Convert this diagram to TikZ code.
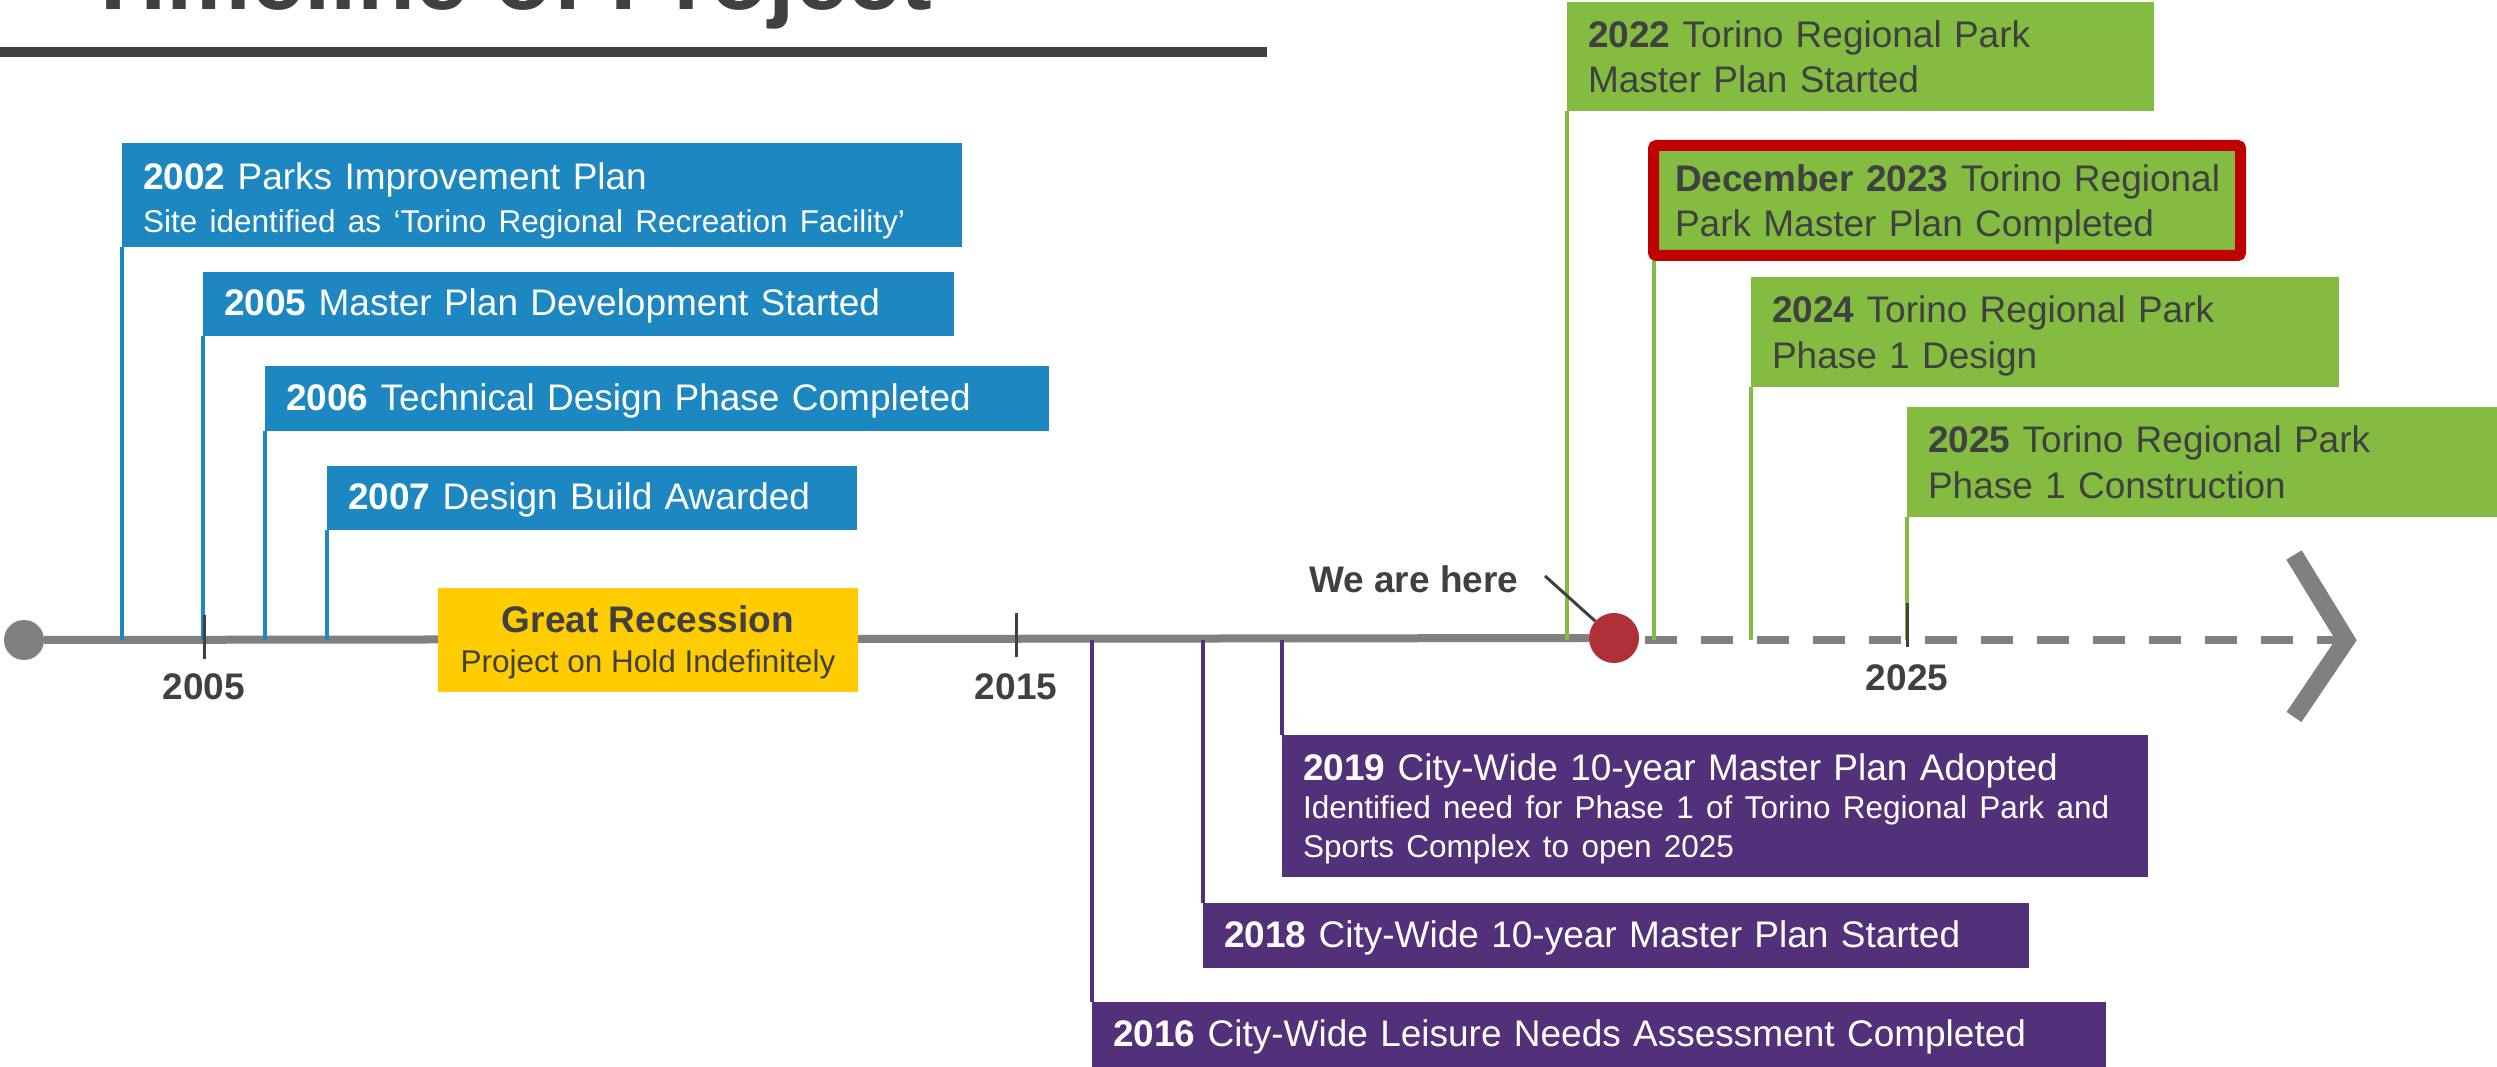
\documentclass[tikz,border=0pt]{standalone}
\usepackage{fontspec}
\setmainfont{Liberation Sans}
\usepackage{tikz}
\usetikzlibrary{positioning, shapes.geometric}

\definecolor{evBlue}{RGB}{29,135,193}
\definecolor{evGreen}{RGB}{132,188,65}
\definecolor{evPurple}{RGB}{82,49,122}
\definecolor{evYellow}{RGB}{255,204,0}
\definecolor{evGray}{RGB}{128,128,128}
\definecolor{evDark}{RGB}{64,64,64}
\definecolor{evRed}{RGB}{192,0,0}
\definecolor{evDot}{RGB}{176,48,58}
\newcommand{\evSub}{\fontsize{31.5}{38}\selectfont}

\begin{document}
\begin{tikzpicture}[x=1pt, y=-1pt, font=\fontsize{37}{43}\selectfont,
	evbox/.style={anchor=north west, inner xsep=21pt, inner ysep=0pt, outer sep=0pt, align=left, text height=27pt, text depth=4pt},
	twoline/.style={text depth=45.5pt},
	bluebox/.style={evbox, fill=evBlue, text=white},
	greenbox/.style={evbox, twoline, fill=evGreen, text=evDark, minimum height=109.5pt, font=\fontsize{37}{45.5}\selectfont},
	purplebox/.style={evbox, fill=evPurple, text=white},
	bluelink/.style={evBlue, line width=4pt},
	greenlink/.style={evGreen, line width=4pt},
	purplelink/.style={evPurple, line width=3.5pt},
	yearlbl/.style={anchor=base, inner sep=0pt, font=\fontsize{37}{43}\selectfont\bfseries, text=evDark}]
	\useasboundingbox (0,0) rectangle (2497,1067);
	
	% title
	\node[anchor=base west, inner sep=0pt, font=\fontsize{95}{100}\selectfont\bfseries, text=evDark] (title) at (84,10) {Timeline of Project};
	\fill[evDark] (0,47) rectangle (1267,57);
	
	% axis
	\coordinate (axisL) at (24,640);
	\coordinate (dashL) at (1645,640);
	\coordinate (tip) at (2346,640);
	\node[circle, fill=evGray, minimum size=40pt, inner sep=0pt] (start) at (axisL) {};
	\node[circle, fill=evDot, minimum size=50pt, inner sep=0pt] (now) at (1614,638) {};
	\draw[evGray, line width=8pt] (start) -- (now);
	\draw[evGray, line width=8pt, dash pattern=on 32pt off 24pt] (dashL) -- (tip);
	\draw[evGray, line width=18pt, miter limit=10] (2294,555) -- (tip) -- (2294,717);
	
	% events before the hold
	\node[bluebox, text width=798pt, minimum height=104pt, text depth=37pt] (e2002) at (122,143) {\textbf{2002} Parks Improvement Plan\\{\evSub Site identified as ‘Torino Regional Recreation Facility’}};
	\node[bluebox, text width=709pt, minimum height=64pt] (e2005) at (203,272) {\textbf{2005} Master Plan Development Started};
	\node[bluebox, text width=742pt, minimum height=65pt] (e2006) at (265,366) {\textbf{2006} Technical Design Phase Completed};
	\node[bluebox, text width=488pt, minimum height=64pt] (e2007) at (327,466) {\textbf{2007} Design Build Awarded};
	\foreach \ev in {e2002, e2005, e2006, e2007} {
		\draw[bluelink] (\ev.south west) -- (\ev.south west |- axisL);
	}
	
	\node[fill=evYellow, minimum width=420pt, minimum height=104pt, align=center, text depth=2pt, font=\fontsize{37}{40}\selectfont, text=evDark] (hold) at (648,640) {\textbf{Great Recession}\\{\evSub Project on Hold Indefinitely}};
	
	% city-wide plans
	\node[purplebox, text width=824pt, minimum height=142pt, text depth=79pt, font=\fontsize{37}{38.5}\selectfont] (e2019) at (1282,735) {\textbf{2019} City-Wide 10-year Master Plan Adopted\\{\evSub Identified need for Phase 1 of Torino Regional Park and}\\{\evSub Sports Complex to open 2025}};
	\node[purplebox, text width=784pt, minimum height=65pt] (e2018) at (1203,903) {\textbf{2018} City-Wide 10-year Master Plan Started};
	\node[purplebox, text width=972pt, minimum height=65pt] (e2016) at (1092,1002) {\textbf{2016} City-Wide Leisure Needs Assessment Completed};
	\foreach \ev in {e2016, e2018, e2019} {
		\draw[purplelink] (\ev.north west |- axisL) -- (\ev.north west);
	}
	
	% regional park
	\node[greenbox, text width=545pt] (e2022) at (1567,2) {\textbf{2022} Torino Regional Park\\Master Plan Started};
	\node[greenbox, text width=546pt] (e2024) at (1751,277) {\textbf{2024} Torino Regional Park\\Phase 1 Design};
	\node[greenbox, text width=548pt] (e2025) at (1907,407) {\textbf{2025} Torino Regional Park\\Phase 1 Construction};
	\draw[greenlink] (1653.5,255.5) coordinate (c2023) -- (c2023 |- axisL);
	\node[greenbox, draw=evRed, line width=11pt, rounded corners=3pt, inner xsep=21.5pt, text width=544pt, minimum height=110pt] (e2023) at (c2023 |- 0,145.5) {\mbox{\textbf{December 2023} Torino Regional}\\Park Master Plan Completed};
	\foreach \ev in {e2022, e2024, e2025} {
		\draw[greenlink] (\ev.south west) -- (\ev.south west |- axisL);
	}
	
	% ticks and years
	\foreach \yr/\x/\top/\base in {2005/204/615/699, 2015/1016/613/699, 2025/1907/603/690} {
		\draw[evDark, line width=3pt] (\x,\top) -- ++(0,44);
		\node[yearlbl] (y\yr) at (\x,\base) {\yr};
	}
	
	% marker
	\node[anchor=base west, inner sep=0pt, font=\fontsize{37}{43}\selectfont\bfseries, text=evDark] (here) at (1309,592) {We are here};
	\coordinate (herept) at (1545,576);
	\draw[evDark, line width=3pt] (herept) -- (now);
	
\end{tikzpicture}
\end{document}
